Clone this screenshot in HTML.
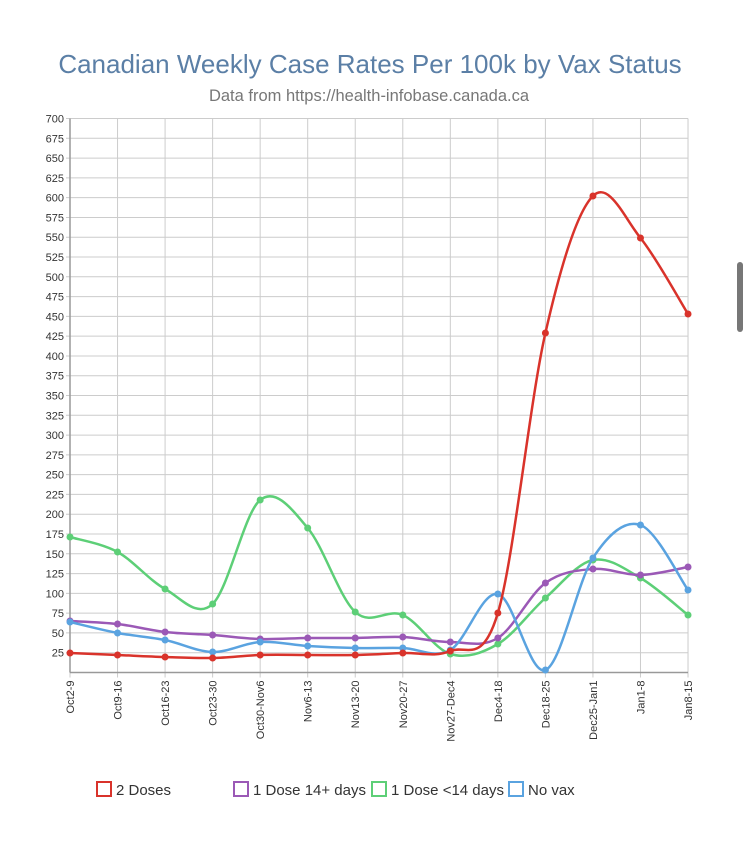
<!DOCTYPE html>
<html><head><meta charset="utf-8"><style>
body{margin:0;background:#fff;width:750px;height:856px;overflow:hidden;font-family:"Liberation Sans",sans-serif}
</style></head><body>
<svg id="s" width="750" height="856" xmlns="http://www.w3.org/2000/svg" font-family="Liberation Sans, sans-serif">
<rect x="737" y="262" width="6" height="70" rx="3" fill="#777"/>
<text x="370" y="73" text-anchor="middle" font-size="26" fill="#5b7fa6">Canadian Weekly Case Rates Per 100k by Vax Status</text>
<text x="369" y="101" text-anchor="middle" font-size="16.5" fill="#777">Data from https://health-infobase.canada.ca</text>
<g id="grid"></g>
<g id="series"></g>
<g font-size="15" fill="#333">
<rect x="97" y="782" width="14" height="14" fill="none" stroke="#d9332b" stroke-width="2"/><text x="116" y="795">2 Doses</text>
<rect x="234" y="782" width="14" height="14" fill="none" stroke="#9b59b6" stroke-width="2"/><text x="253" y="795">1 Dose 14+ days</text>
<rect x="372" y="782" width="14" height="14" fill="none" stroke="#5dcf77" stroke-width="2"/><text x="391" y="795">1 Dose &lt;14 days</text>
<rect x="509" y="782" width="14" height="14" fill="none" stroke="#5aa3e0" stroke-width="2"/><text x="528" y="795">No vax</text>
</g>
</svg>
<script>
var NS="http://www.w3.org/2000/svg",g=document.getElementById('grid'),S=document.getElementById('series');
function el(t,a,p,txt){var e=document.createElementNS(NS,t);for(var k in a)e.setAttribute(k,a[k]);if(txt)e.textContent=txt;p.appendChild(e);return e;}
var x0=70,dx=47.54,y0=672.5,dy=0.7914;
var labs=["Oct2-9","Oct9-16","Oct16-23","Oct23-30","Oct30-Nov6","Nov6-13","Nov13-20","Nov20-27","Nov27-Dec4","Dec4-18","Dec18-25","Dec25-Jan1","Jan1-8","Jan8-15"];
for(var v=25;v<=700;v+=25){var y=y0-v*dy;el('line',{x1:x0-4,x2:x0+13*dx,y1:y,y2:y,stroke:'#ccc','stroke-width':1},g);
el('text',{x:x0-6,y:y+4,'text-anchor':'end','font-size':11,fill:'#333'},g,v);}
for(var i=0;i<14;i++){var x=x0+i*dx;el('line',{x1:x,x2:x,y1:y0-700*dy,y2:y0+5,stroke:'#ccc','stroke-width':1},g);
el('text',{transform:'translate('+(x+4)+','+(y0+8)+') rotate(-90)','text-anchor':'end','font-size':11,fill:'#333'},g,labs[i]);}
el('line',{x1:x0,x2:x0+13*dx,y1:y0,y2:y0,stroke:'#999','stroke-width':1.5},g);
el('line',{x1:x0,x2:x0,y1:y0-700*dy,y2:y0,stroke:'#999','stroke-width':1.5},g);
var data=[
["#5dcf77",[537,552,589,604,500,528,612,615,654,644,598,560,578,615]],
["#9b59b6",[621,624,632,635,639,638,638,637,642,638,583,569,575,567]],
["#5aa3e0",[622,633,640,652,642,646,648,648,650,594,670,558,525,590]],
["#d9332b",[653,655,657,658,655,655,655,653,651,613,333,196,238,314]]];
data.forEach(function(d){var p=d[1].map(function(y,i){return[x0+i*dx,y]});
var s="M"+p[0][0]+","+p[0][1];
for(var i=0;i<p.length-1;i++){var a=p[Math.max(i-1,0)],b=p[i],c=p[i+1],e=p[Math.min(i+2,p.length-1)],t=6;
s+=" C"+(b[0]+(c[0]-a[0])/t)+","+(b[1]+(c[1]-a[1])/t)+" "+(c[0]-(e[0]-b[0])/t)+","+(c[1]-(e[1]-b[1])/t)+" "+c[0]+","+c[1];}
el('path',{d:s,fill:'none',stroke:d[0],'stroke-width':2.5},S);
p.forEach(function(q){el('circle',{cx:q[0],cy:q[1],r:3.5,fill:d[0]},S)});});
</script>
</body></html>
